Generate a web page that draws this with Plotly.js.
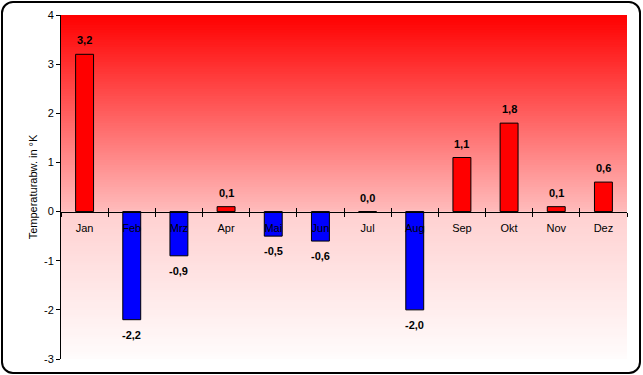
<!DOCTYPE html>
<html><head><meta charset="utf-8">
<script src="https://cdn.plot.ly/plotly-3.0.1.min.js"></script>
<style>
html,body{margin:0;padding:0;background:#fff;overflow:hidden}
#wrap{position:relative;width:643px;height:375px}
#chart{position:absolute;left:0;top:0;width:643px;height:375px}
#frame{position:absolute;left:1px;top:1px;width:636px;height:369px;border:2px solid #000;border-radius:12px;pointer-events:none}
</style></head>
<body><div id="wrap"><div id="chart"></div><div id="frame"></div></div>
<script>
const months = ['Jan','Feb','Mrz','Apr','Mai','Jun','Jul','Aug','Sep','Okt','Nov','Dez'];
const deviation = [3.2,-2.2,-0.9,0.1,-0.5,-0.6,0.0,-2.0,1.1,1.8,0.1,0.6];
const yTicks = [-3,-2,-1,0,1,2,3,4];
const yTitle = 'Temperaturabw. in °K';

const fmt = v => v.toFixed(1).replace('.', ',');
const barColors = deviation.map(v => v < 0 ? '#0000ff' : '#ff0000');

// gradient background strips
const shapes = [];
const step = 0.05;
for (let y0 = -3; y0 < 4 - 1e-9; y0 += step) {
  const ym = y0 + step/2;
  let g;
  if (ym >= 0) g = Math.round(47 * (4 - ym));
  else g = Math.round(208 + (-ym) / 3 * 44);
  g = Math.max(0, Math.min(255, g));
  shapes.push({type:'rect', xref:'paper', yref:'y', x0:0, x1:1, y0:y0, y1:Math.min(4, y0+step*2),
    fillcolor:`rgb(255,${g},${g})`, line:{width:0}, layer:'below'});
}

const annotations = deviation.map((v, i) => ({
  x: months[i], y: v, xref:'x', yref:'y', text: '<b>' + fmt(v) + '</b>',
  showarrow:false, yanchor:'middle', yshift: v < 0 ? -15 : 14,
  font:{family:'Arial, Liberation Sans, sans-serif', size:11, color:'#000'}
}));

const trace = {
  type:'bar', x: months, y: deviation,
  marker:{color: barColors, line:{color:'#000', width:1}},
  width: 0.38, hoverinfo:'skip'
};
const tickTrace = {
  type:'bar', x: months, y: deviation, xaxis:'x2', opacity:0,
  width: 0.38, hoverinfo:'skip'
};

const xCommon = {type:'category', categoryarray: months, range:[-0.5, 11.5],
    anchor:'free', position: 3/7, showline:true, linecolor:'#000', linewidth:1,
    ticklen:4, tickcolor:'#000', tickson:'boundaries',
    showgrid:false, zeroline:false, tickfont:{size:11}, fixedrange:true};

const layout = {
  width:643, height:375,
  margin:{l:61, r:16, t:15, b:16, pad:0},
  paper_bgcolor:'rgba(0,0,0,0)', plot_bgcolor:'#fff',
  showlegend:false,
  font:{family:'Arial, Liberation Sans, sans-serif', size:11, color:'#000'},
  xaxis:Object.assign({}, xCommon, {ticks:'outside', ticklabelstandoff:6}),
  xaxis2:Object.assign({}, xCommon, {ticks:'inside', overlaying:'x', showticklabels:false}),
  yaxis:{range:[-3,4], tickvals: yTicks, ticktext: yTicks.map(String),
    showline:true, linecolor:'#000', linewidth:1, ticks:'outside', ticklen:4, tickcolor:'#000',
    showgrid:false, zeroline:false, tickfont:{size:11},
    title:{text: yTitle, font:{size:11}, standoff:4}, fixedrange:true},
  shapes: shapes, annotations: annotations
};

Plotly.newPlot('chart', [trace, tickTrace], layout, {staticPlot:true, displayModeBar:false});
</script></body></html>
